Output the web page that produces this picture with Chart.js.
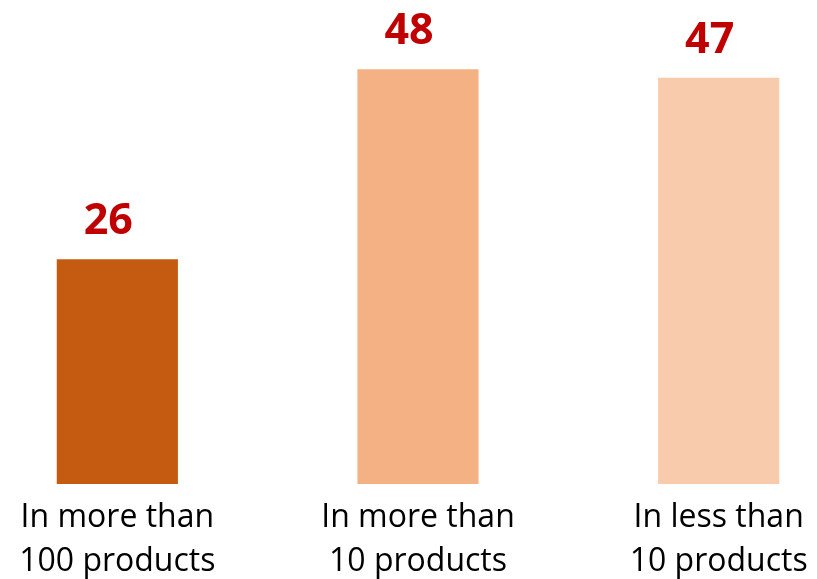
<!DOCTYPE html>
<html>
<head>
<meta charset="utf-8">
<script src="https://cdn.jsdelivr.net/npm/chart.js@4"></script>
<style>
  html, body { margin: 0; padding: 0; background: #fff; overflow: hidden; }
  #wrap { position: absolute; left: -33px; top: 0; width: 902px; height: 596px; }
</style>
</head>
<body>
<div id="wrap"><canvas id="bars_chart"></canvas></div>
<script>
const categories = [
  ['In more than', '100 products'],
  ['In more than', '10 products'],
  ['In less than', '10 products']
];
const values = [26, 48, 47];
const bar_colors = ['#C55A11', '#F4B183', '#F8CBAD'];

// draw the numbers above each bar (sit a little left of centre, as in the original)
const value_labels = {
  id: 'value_labels',
  afterDatasetsDraw(chart) {
    const ctx = chart.ctx;
    const meta = chart.getDatasetMeta(0);
    ctx.save();
    ctx.fillStyle = '#C00000';
    ctx.font = 'bold 43px "Open Sans"';
    ctx.textAlign = 'center';
    ctx.textBaseline = 'alphabetic';
    meta.data.forEach((bar, i) => {
      ctx.fillText(values[i], bar.x - 9, bar.y - 25);
    });
    ctx.restore();
  }
};

const ctx = document.getElementById('bars_chart');
const chart = new Chart(ctx, {
  type: 'bar',
  data: {
    labels: categories,
    datasets: [{
      data: values,
      backgroundColor: bar_colors,
      borderWidth: 0,
      barPercentage: 0.403,
      categoryPercentage: 1
    }]
  },
  options: {
    responsive: true,
    maintainAspectRatio: false,
    animation: false,
    layout: { padding: 0 },
    plugins: {
      legend: { display: false },
      tooltip: { enabled: false }
    },
    scales: {
      y: {
        display: false,
        min: 0,
        max: 56
      },
      x: {
        grid: { display: false, drawTicks: false },
        border: { display: false },
        ticks: {
          color: '#000',
          font: { family: '"Open Sans"', size: 32, lineHeight: 1.375 },
          padding: 12,
          maxRotation: 0,
          autoSkip: false
        }
      }
    }
  },
  plugins: [value_labels]
});
</script>
</body>
</html>
